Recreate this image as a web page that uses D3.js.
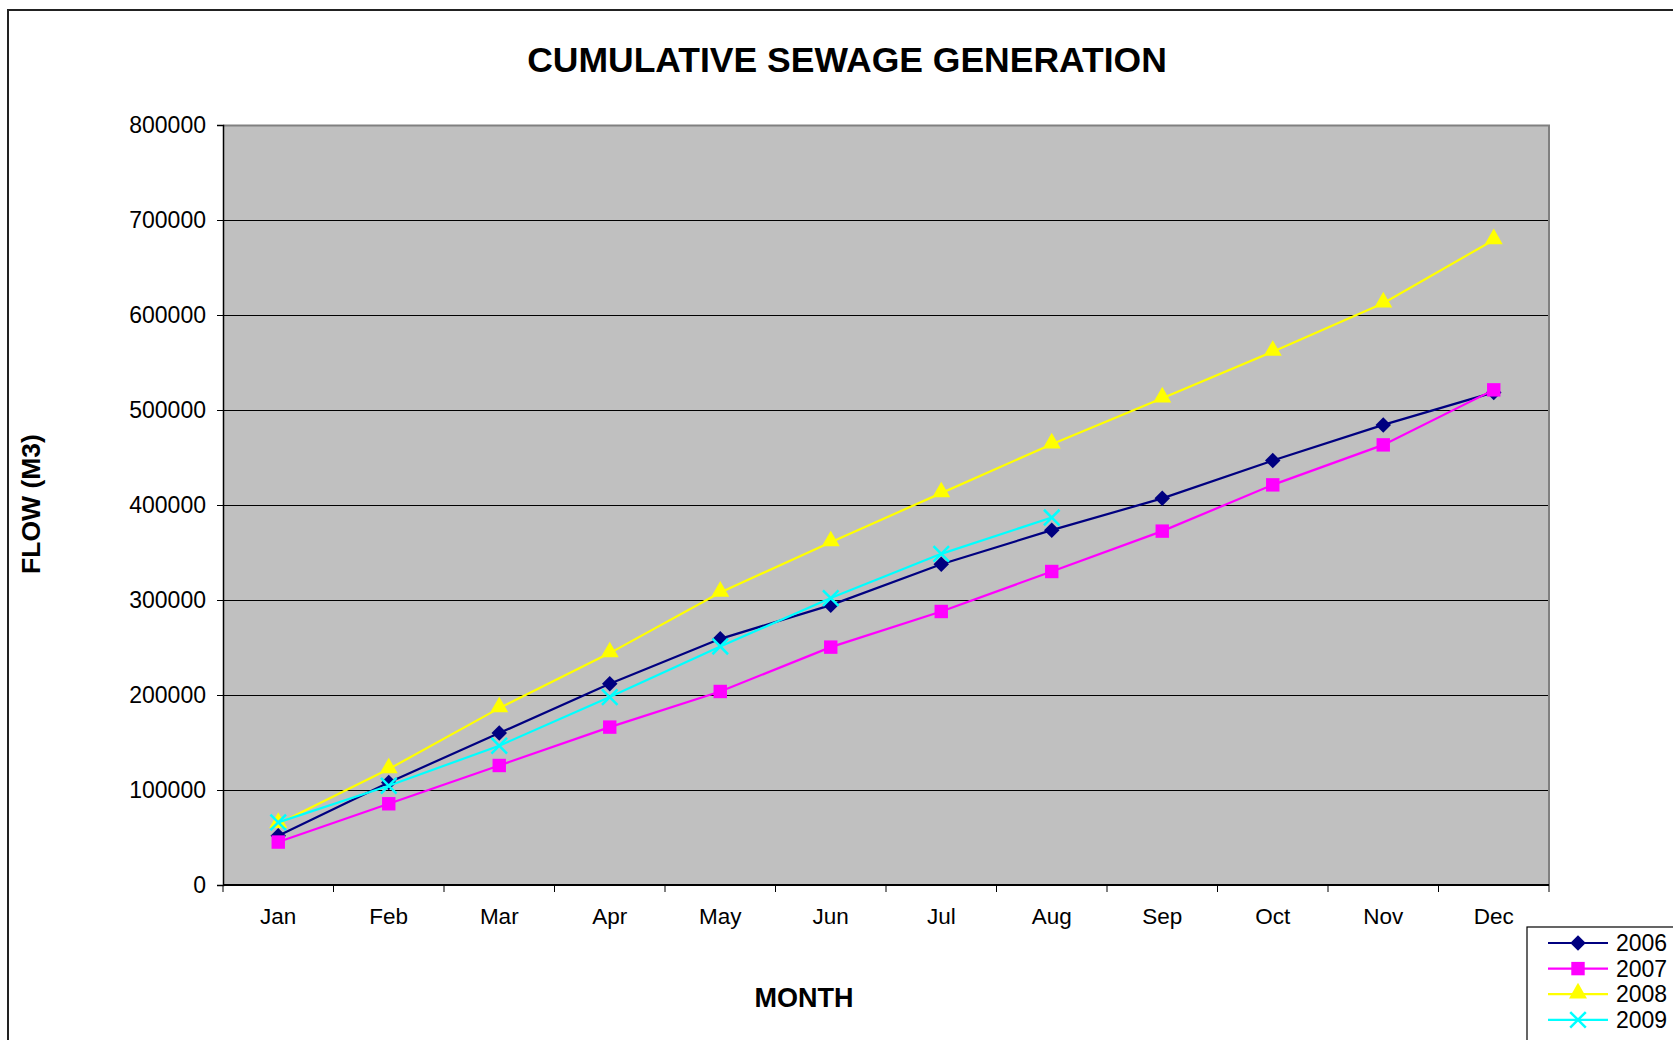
<!DOCTYPE html>
<html>
<head>
<meta charset="utf-8">
<script src="https://cdn.jsdelivr.net/npm/d3@7"></script>
<style>
  body { margin: 0; background: #fff; }
  text { font-family: "Liberation Sans", Arial, sans-serif; fill: #000; }
</style>
</head>
<body>
<div id="chart"></div>
<script>
// data
var months = ["Jan", "Feb", "Mar", "Apr", "May", "Jun", "Jul", "Aug", "Sep", "Oct", "Nov", "Dec"];
var yTicks = [0, 100000, 200000, 300000, 400000, 500000, 600000, 700000, 800000];
var years = ["2006", "2007", "2008", "2009"];
var flow2006 = [51900, 108000, 159900, 211800, 259100, 294600, 337700, 373500, 407000, 446800, 484300, 518500];
var flow2007 = [45200, 85500, 125800, 166200, 203700, 250400, 287900, 330000, 372500, 421200, 463300, 521200];
var flow2008 = [64500, 122000, 186200, 244100, 307900, 360900, 412500, 464000, 512400, 561400, 612400, 679000];
var flow2009 = [65900, 104500, 146600, 197800, 251100, 302000, 348600, 386800];

var width = 1673,
    height = 1040;

var plot = { left: 223, top: 125, width: 1326, height: 760 };

var series = [
  { name: years[0], values: flow2006, color: "#000080", symbol: "diamond" },
  { name: years[1], values: flow2007, color: "#ff00ff", symbol: "square" },
  { name: years[2], values: flow2008, color: "#ffff00", symbol: "triangle" },
  { name: years[3], values: flow2009, color: "#00ffff", symbol: "times" }
];

var svg = d3.select("#chart").append("svg")
  .attr("width", width)
  .attr("height", height);

// outer chart border
svg.append("rect")
  .attr("x", 8)
  .attr("y", 10)
  .attr("width", width + 20)
  .attr("height", height + 20)
  .attr("fill", "#fff")
  .attr("stroke", "#222")
  .attr("stroke-width", 2);

svg.append("text")
  .attr("x", 847)
  .attr("y", 72)
  .attr("text-anchor", "middle")
  .attr("font-weight", "bold")
  .attr("font-size", 35.5)
  .text("CUMULATIVE SEWAGE GENERATION");

var x = d3.scaleBand()
  .domain(months)
  .range([0, plot.width]);

var y = d3.scaleLinear()
  .domain([0, 800000])
  .range([plot.height, 0]);

var g = svg.append("g")
  .attr("transform", "translate(" + plot.left + "," + plot.top + ")");

g.append("rect")
  .attr("width", plot.width)
  .attr("height", plot.height)
  .attr("fill", "#c0c0c0");

// gridlines
g.append("g")
  .selectAll("line")
  .data(yTicks.slice(1, -1))
  .enter().append("line")
  .attr("x1", 0)
  .attr("x2", plot.width)
  .attr("y1", function(d) { return Math.round(y(d)) + 0.5; })
  .attr("y2", function(d) { return Math.round(y(d)) + 0.5; })
  .attr("stroke", "#000")
  .attr("stroke-width", 1);

// top and right border of plot area
g.append("path")
  .attr("d", "M0,0.5H" + plot.width + "V" + plot.height)
  .attr("fill", "none")
  .attr("stroke", "#808080")
  .attr("stroke-width", 2);

// y axis
var yAxis = g.append("g")
  .call(d3.axisLeft(y)
    .tickValues(yTicks)
    .tickFormat(d3.format("d"))
    .tickSize(6)
    .tickPadding(11))
  .attr("font-size", 23)
  .attr("font-family", "Liberation Sans, Arial, sans-serif");
yAxis.select(".domain").attr("stroke", "#000").attr("stroke-width", 1.5);

// x axis labels
var xAxis = g.append("g")
  .attr("transform", "translate(0," + plot.height + ")")
  .call(d3.axisBottom(x).tickSize(0).tickPadding(23))
  .attr("font-size", 22.5)
  .attr("font-family", "Liberation Sans, Arial, sans-serif");
xAxis.select(".domain").remove();

// x ticks on category boundaries
xAxis.selectAll(".bound")
  .data(d3.range(months.length + 1))
  .enter().append("line")
  .attr("class", "bound")
  .attr("x1", function(i) { return x.range()[0] + i * x.step(); })
  .attr("x2", function(i) { return x.range()[0] + i * x.step(); })
  .attr("y1", 0)
  .attr("y2", 7)
  .attr("stroke", "#000");

g.append("line")
  .attr("x1", 0)
  .attr("x2", plot.width)
  .attr("y1", plot.height)
  .attr("y2", plot.height)
  .attr("stroke", "#000")
  .attr("stroke-width", 2);

svg.append("text")
  .attr("transform", "translate(31,504) rotate(-90)")
  .attr("text-anchor", "middle")
  .attr("dominant-baseline", "central")
  .attr("font-weight", "bold")
  .attr("font-size", 26.5)
  .text("FLOW (M3)");

svg.append("text")
  .attr("x", 804)
  .attr("y", 1007)
  .attr("text-anchor", "middle")
  .attr("font-weight", "bold")
  .attr("font-size", 27)
  .text("MONTH");

function symbolPath(type) {
  if (type == "diamond") return d3.symbol(d3.symbolSquare, 120)();
  if (type == "square") return d3.symbol(d3.symbolSquare, 180)();
  if (type == "triangle") return d3.symbol(d3.symbolTriangle, 140)();
  return d3.symbol(d3.symbolTimes, 160)();
}

function drawMarker(sel, s) {
  var p = sel.append("path")
    .attr("d", symbolPath(s.symbol));
  if (s.symbol == "times") {
    p.attr("fill", "none").attr("stroke", s.color).attr("stroke-width", 2.5);
  } else {
    p.attr("fill", s.color);
  }
  if (s.symbol == "diamond") p.attr("transform", "rotate(45)");
  if (s.symbol == "triangle") p.attr("transform", "translate(0,-1)");
  return p;
}

var line = d3.line()
  .x(function(d, i) { return x(months[i]) + x.bandwidth() / 2; })
  .y(function(d) { return y(d); });

series.forEach(function(s) {
  var sg = g.append("g");
  sg.append("path")
    .datum(s.values)
    .attr("d", line)
    .attr("fill", "none")
    .attr("stroke", s.color)
    .attr("stroke-width", 2.2);

  sg.selectAll("g.pt")
    .data(s.values)
    .enter().append("g")
    .attr("class", "pt")
    .attr("transform", function(d, i) {
      return "translate(" + (x(months[i]) + x.bandwidth() / 2) + "," + y(d) + ")";
    })
    .each(function() { drawMarker(d3.select(this), s); });
});

// legend
var legend = svg.append("g")
  .attr("transform", "translate(1527,927)");

legend.append("rect")
  .attr("width", 200)
  .attr("height", 200)
  .attr("fill", "#fff")
  .attr("stroke", "#000")
  .attr("stroke-width", 1.2);

var item = legend.selectAll("g.item")
  .data(series)
  .enter().append("g")
  .attr("class", "item")
  .attr("transform", function(d, i) { return "translate(0," + (16 + i * 25.6) + ")"; });

item.append("line")
  .attr("x1", 21)
  .attr("x2", 81)
  .attr("stroke", function(d) { return d.color; })
  .attr("stroke-width", 2.2);

item.append("g")
  .attr("transform", "translate(51,0)")
  .each(function(d) { drawMarker(d3.select(this), d); });

item.append("text")
  .attr("x", 89)
  .attr("dy", "0.36em")
  .attr("font-size", 23)
  .text(function(d) { return d.name; });
</script>
</body>
</html>
